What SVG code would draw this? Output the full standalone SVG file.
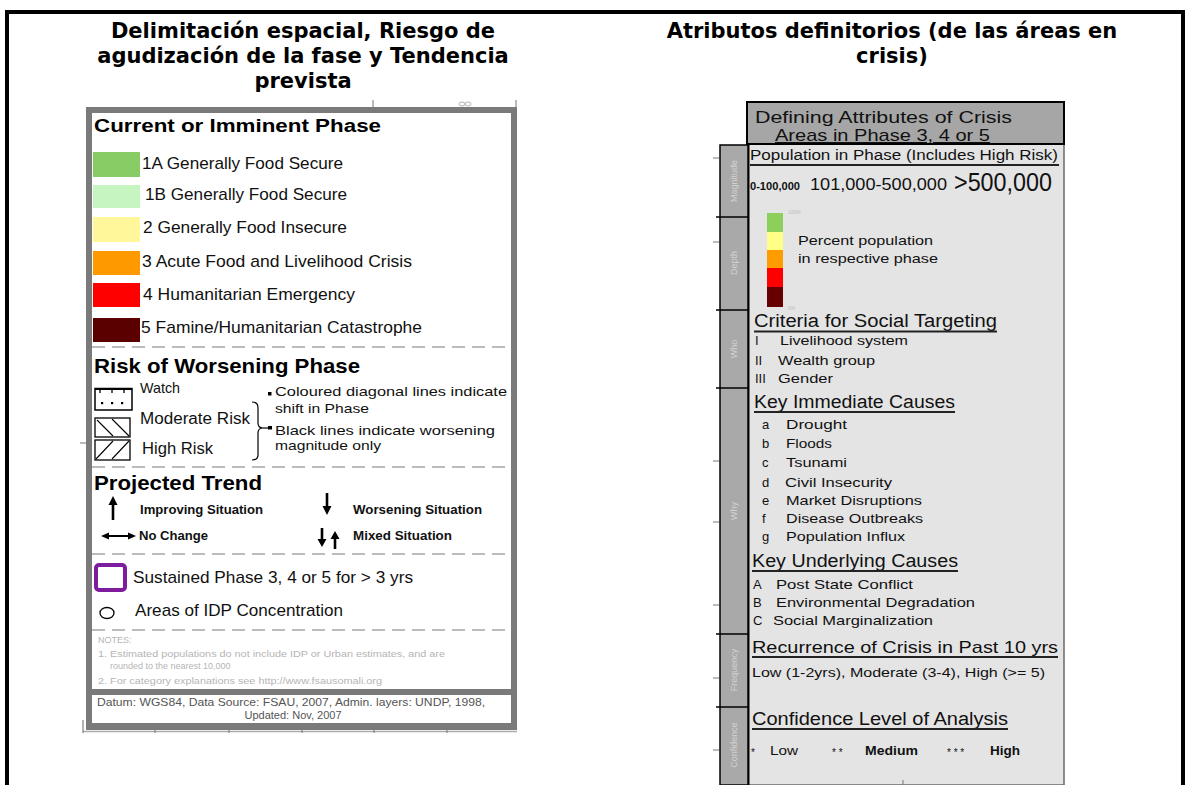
<svg xmlns="http://www.w3.org/2000/svg" width="1185" height="785" viewBox="0 0 1185 785">
<defs>
<style>
.ttl{font-family:"DejaVu Sans",Verdana,sans-serif;font-weight:bold;font-size:21px;fill:#000;text-anchor:middle}
.lg{font-family:"Liberation Sans",Arial,sans-serif;fill:#111}
.hd{font-family:"Liberation Sans",Arial,sans-serif;font-weight:bold;fill:#000}
.dash{stroke:#a5a5a5;stroke-width:1.5;stroke-dasharray:13 7;fill:none}
.note{font-family:"Liberation Sans",Arial,sans-serif;font-size:9px;fill:#b5b5b5}
.rt{font-family:"Liberation Sans",Arial,sans-serif;fill:#111}
.tab{font-family:"Liberation Sans",Arial,sans-serif;font-size:9px;fill:#d2d2d2;text-anchor:middle}
.ul{stroke:#222;stroke-width:2}
.tick{stroke:#777;stroke-width:1}
</style>
<clipPath id="hdrclip"><rect x="748" y="103" width="315" height="40"/></clipPath>
</defs>

<g id="frame">
<rect x="5" y="10" width="1180" height="4" fill="#000"/>
<rect x="5" y="10" width="4" height="775" fill="#000"/>
<rect x="1181" y="10" width="4" height="775" fill="#000"/>
</g>

<g id="titles">
<text class="ttl" x="303" y="38">Delimitación espacial, Riesgo de</text>
<text class="ttl" x="303" y="63">agudización de la fase y Tendencia</text>
<text class="ttl" x="303" y="88">prevista</text>
<text class="ttl" x="892" y="38">Atributos definitorios (de las áreas en</text>
<text class="ttl" x="892" y="63">crisis)</text>
</g>

<g id="legend-left">
<line x1="373" y1="100" x2="373" y2="108" class="tick"/>
<ellipse cx="462" cy="104" rx="3" ry="2" fill="none" stroke="#b5b5b5"/>
<ellipse cx="468" cy="104" rx="3" ry="2" fill="none" stroke="#b5b5b5"/>
<line x1="516" y1="100" x2="516" y2="108" class="tick"/>
<line x1="80" y1="443" x2="87" y2="443" class="tick"/>
<rect x="86" y="107" width="431" height="623" fill="#7a7a7a"/>
<rect x="92" y="113" width="419" height="576" fill="#fff"/>
<rect x="92" y="695" width="419" height="28" fill="#fff"/>
<line x1="83" y1="731.5" x2="517" y2="731.5" stroke="#aaa" stroke-width="1.5"/>
<line x1="83" y1="720" x2="83" y2="733" stroke="#666" stroke-width="1"/>
<g class="tick"><line x1="155" y1="729" x2="155" y2="733"/><line x1="229" y1="729" x2="229" y2="733"/><line x1="302" y1="729" x2="302" y2="733"/><line x1="374" y1="729" x2="374" y2="733"/><line x1="447" y1="729" x2="447" y2="733"/></g>

<g id="current-phase">
<text class="hd" x="94" y="132" font-size="18" textLength="287" lengthAdjust="spacingAndGlyphs">Current or Imminent Phase</text>
<rect x="93" y="152" width="47" height="25" fill="#88cc66"/>
<rect x="93" y="185" width="47" height="23" fill="#c6f5c2"/>
<rect x="93" y="217" width="47" height="25" fill="#fff79a"/>
<rect x="93" y="251" width="47" height="24" fill="#ff9900"/>
<rect x="93" y="283" width="47" height="24" fill="#ff0000"/>
<rect x="93" y="318" width="47" height="24" fill="#5a0000"/>
<text class="lg" x="142" y="169" font-size="17" textLength="201" lengthAdjust="spacingAndGlyphs">1A Generally Food Secure</text>
<text class="lg" x="145" y="200" font-size="17" textLength="202" lengthAdjust="spacingAndGlyphs">1B  Generally Food Secure</text>
<text class="lg" x="143" y="233" font-size="17" textLength="204" lengthAdjust="spacingAndGlyphs">2 Generally Food Insecure</text>
<text class="lg" x="142" y="267" font-size="17" textLength="270" lengthAdjust="spacingAndGlyphs">3 Acute Food and Livelihood Crisis</text>
<text class="lg" x="143" y="300" font-size="17" textLength="212" lengthAdjust="spacingAndGlyphs">4 Humanitarian Emergency</text>
<text class="lg" x="141" y="333" font-size="17" textLength="281" lengthAdjust="spacingAndGlyphs">5 Famine/Humanitarian Catastrophe</text>
</g>
<line x1="92" y1="347" x2="511" y2="347" class="dash"/>

<g id="risk">
<text class="hd" x="94" y="373" font-size="21" textLength="266" lengthAdjust="spacingAndGlyphs">Risk of Worsening Phase</text>
<rect x="95" y="388.5" width="37" height="21.5" fill="none" stroke="#000" stroke-width="1.5"/>
<line x1="95" y1="389" x2="132" y2="389" stroke="#000" stroke-width="2"/>
<g stroke="#000" stroke-width="1.3"><line x1="100" y1="389" x2="100" y2="393"/><line x1="112" y1="389" x2="112" y2="393"/><line x1="124" y1="389" x2="124" y2="393"/></g>
<g fill="#000"><rect x="101" y="402" width="2.2" height="2.2"/><rect x="111" y="402" width="2.2" height="2.2"/><rect x="121" y="402" width="2.2" height="2.2"/></g>
<rect x="95" y="418" width="35" height="19" fill="none" stroke="#000" stroke-width="1.3"/>
<g stroke="#000" stroke-width="1.1"><line x1="97" y1="420" x2="113" y2="436"/><line x1="112" y1="419" x2="129" y2="436"/></g>
<rect x="95" y="440" width="35" height="20" fill="none" stroke="#000" stroke-width="1.3"/>
<g stroke="#000" stroke-width="1.1"><line x1="96" y1="459" x2="113" y2="441"/><line x1="112" y1="459" x2="129" y2="441"/></g>
<text class="lg" x="140" y="393" font-size="15" textLength="40" lengthAdjust="spacingAndGlyphs">Watch</text>
<text class="lg" x="140" y="424" font-size="16" textLength="110" lengthAdjust="spacingAndGlyphs">Moderate Risk</text>
<text class="lg" x="142" y="454" font-size="16" textLength="71" lengthAdjust="spacingAndGlyphs">High Risk</text>
<path d="M252,402 Q258,402 258,408 L258,423 Q258,428 263,428 Q258,428 258,433 L258,455 Q258,460 252,460" fill="none" stroke="#000" stroke-width="1.2"/>
<line x1="263" y1="428" x2="268" y2="428" stroke="#000" stroke-width="1.2"/>
<rect x="268" y="392" width="3.5" height="3.5" fill="#000"/>
<rect x="268" y="426" width="4" height="3.5" fill="#000"/>
<text class="lg" x="275" y="396" font-size="13" textLength="232" lengthAdjust="spacingAndGlyphs">Coloured diagonal lines indicate</text>
<text class="lg" x="275" y="413" font-size="13" textLength="94" lengthAdjust="spacingAndGlyphs">shift in Phase</text>
<text class="lg" x="275" y="435" font-size="13" textLength="220" lengthAdjust="spacingAndGlyphs">Black lines indicate worsening</text>
<text class="lg" x="275" y="450" font-size="13" textLength="106" lengthAdjust="spacingAndGlyphs">magnitude only</text>
</g>
<line x1="92" y1="467" x2="511" y2="467" class="dash"/>

<g id="trend">
<text class="hd" x="94" y="490" font-size="20" textLength="168" lengthAdjust="spacingAndGlyphs">Projected Trend</text>
<line x1="113" y1="520" x2="113" y2="503" stroke="#000" stroke-width="2.6"/>
<polygon points="108.5,505 113,496 117.5,505" fill="#000"/>
<line x1="327" y1="493" x2="327" y2="508" stroke="#000" stroke-width="2.6"/>
<polygon points="322.5,506 327,515 331.5,506" fill="#000"/>
<line x1="104" y1="536" x2="133" y2="536" stroke="#000" stroke-width="2"/>
<polygon points="101,536 109,532.5 109,539.5" fill="#000"/>
<polygon points="136,536 128,532.5 128,539.5" fill="#000"/>
<line x1="322" y1="528" x2="322" y2="541" stroke="#000" stroke-width="2.6"/>
<polygon points="317.5,539 322,547 326.5,539" fill="#000"/>
<line x1="335" y1="549" x2="335" y2="537" stroke="#000" stroke-width="2.6"/>
<polygon points="330.5,539 335,531 339.5,539" fill="#000"/>
<text class="lg" x="140" y="514" font-size="12.5" font-weight="bold" textLength="123" lengthAdjust="spacingAndGlyphs">Improving Situation</text>
<text class="lg" x="353" y="514" font-size="12.5" font-weight="bold" textLength="129" lengthAdjust="spacingAndGlyphs">Worsening Situation</text>
<text class="lg" x="139" y="540" font-size="12.5" font-weight="bold" textLength="69" lengthAdjust="spacingAndGlyphs">No Change</text>
<text class="lg" x="353" y="540" font-size="12.5" font-weight="bold" textLength="99" lengthAdjust="spacingAndGlyphs">Mixed Situation</text>
</g>
<line x1="92" y1="554" x2="511" y2="554" class="dash"/>

<g id="sustained">
<rect x="96" y="565" width="29" height="25" rx="3" fill="#fff" stroke="#7d1d9e" stroke-width="4"/>
<text class="lg" x="133" y="583" font-size="17" textLength="280" lengthAdjust="spacingAndGlyphs">Sustained Phase 3, 4 or 5 for &gt; 3 yrs</text>
<ellipse cx="107" cy="613" rx="7" ry="5.5" fill="none" stroke="#000" stroke-width="1.3"/>
<text class="lg" x="135" y="616" font-size="17" textLength="208" lengthAdjust="spacingAndGlyphs">Areas of IDP Concentration</text>
</g>
<line x1="92" y1="630" x2="511" y2="630" class="dash"/>

<g id="notes">
<text class="note" x="98" y="643">NOTES:</text>
<text class="note" x="98" y="657" textLength="347" lengthAdjust="spacingAndGlyphs">1. Estimated populations do not include IDP or Urban estimates, and are</text>
<text class="note" x="110" y="669">rounded to the nearest 10,000</text>
<text class="note" x="98" y="684" textLength="284" lengthAdjust="spacingAndGlyphs">2. For category explanations see http://www.fsausomali.org</text>
<text class="lg" x="291" y="706" font-size="11" style="fill:#555" text-anchor="middle" textLength="388" lengthAdjust="spacingAndGlyphs">Datum: WGS84, Data Source: FSAU, 2007, Admin. layers: UNDP, 1998,</text>
<text class="lg" x="293" y="719" font-size="11" style="fill:#555" text-anchor="middle">Updated: Nov, 2007</text>
</g>
</g>

<g id="attributes-right">
<g class="tick">
<line x1="713" y1="158" x2="719" y2="158"/><line x1="713" y1="242" x2="719" y2="242"/><line x1="713" y1="461" x2="719" y2="461"/>
<line x1="713" y1="522" x2="719" y2="522"/><line x1="713" y1="605" x2="719" y2="605"/><line x1="713" y1="678" x2="719" y2="678"/><line x1="713" y1="750" x2="719" y2="750"/>
</g>
<rect x="748" y="144" width="316" height="641" fill="#e4e4e4" stroke="#6a6a6a" stroke-width="1.5"/>
<line x1="748.5" y1="144" x2="748.5" y2="785" stroke="#000" stroke-width="2"/>
<rect x="720" y="145" width="28" height="640" fill="#a9a9a9" stroke="#000" stroke-width="1.5"/>
<g stroke="#000" stroke-width="1.5">
<line x1="716" y1="217" x2="748" y2="217"/><line x1="716" y1="310" x2="748" y2="310"/><line x1="716" y1="388" x2="748" y2="388"/>
<line x1="716" y1="634" x2="748" y2="634"/><line x1="716" y1="707" x2="748" y2="707"/>
</g>
<text class="tab" transform="translate(737,181) rotate(-90)">Magnitude</text>
<text class="tab" transform="translate(737,263) rotate(-90)">Depth</text>
<text class="tab" transform="translate(737,349) rotate(-90)">Who</text>
<text class="tab" transform="translate(737,511) rotate(-90)">Why</text>
<text class="tab" transform="translate(737,670) rotate(-90)">Frequency</text>
<text class="tab" transform="translate(737,745) rotate(-90)">Confidence</text>

<g id="attr-header">
<rect x="747" y="102" width="317" height="42" fill="#a6a6a6" stroke="#000" stroke-width="2"/>
<g clip-path="url(#hdrclip)">
<text class="rt" x="755" y="123" font-size="17" textLength="257" lengthAdjust="spacingAndGlyphs">Defining Attributes of Crisis</text>
<text class="rt" x="775" y="141" font-size="17" textLength="215" lengthAdjust="spacingAndGlyphs" text-decoration="underline">Areas in Phase 3, 4 or 5</text>
</g>
</g>

<g id="magnitude">
<text class="rt" x="750" y="160" font-size="14" textLength="308" lengthAdjust="spacingAndGlyphs">Population in Phase (Includes High Risk)</text>
<line x1="750" y1="165" x2="1059" y2="165" class="ul"/>
<text class="rt" x="750" y="190" font-size="11" font-weight="bold" textLength="50" lengthAdjust="spacingAndGlyphs">0-100,000</text>
<text class="rt" x="810" y="190" font-size="17" textLength="137" lengthAdjust="spacingAndGlyphs">101,000-500,000</text>
<text class="rt" x="954" y="191" font-size="25" textLength="98" lengthAdjust="spacingAndGlyphs">&gt;500,000</text>
</g>

<g id="depth">
<rect x="767" y="213" width="16" height="19" fill="#8ccf5a"/>
<rect x="767" y="232" width="16" height="18" fill="#ffff88"/>
<rect x="767" y="250" width="16" height="18" fill="#ff9c00"/>
<rect x="767" y="268" width="16" height="19" fill="#ff0000"/>
<rect x="767" y="287" width="16" height="20" fill="#660000"/>
<text class="rt" x="788" y="214" font-size="5" style="fill:#bbb">100%</text>
<text class="rt" x="788" y="310" font-size="5" style="fill:#bbb">0%</text>
<text class="rt" x="798" y="245" font-size="13" textLength="135" lengthAdjust="spacingAndGlyphs">Percent population</text>
<text class="rt" x="798" y="263" font-size="13" textLength="140" lengthAdjust="spacingAndGlyphs">in respective phase</text>
</g>

<g id="who">
<text class="rt" x="754" y="327" font-size="18" textLength="243" lengthAdjust="spacingAndGlyphs">Criteria for Social Targeting</text>
<line x1="754" y1="331.5" x2="997" y2="331.5" class="ul"/>
<text class="rt" x="755" y="345" font-size="13">I</text>
<text class="rt" x="780" y="345" font-size="13" textLength="128" lengthAdjust="spacingAndGlyphs">Livelihood system</text>
<text class="rt" x="755" y="365" font-size="13">II</text>
<text class="rt" x="778" y="365" font-size="13" textLength="97" lengthAdjust="spacingAndGlyphs">Wealth group</text>
<text class="rt" x="755" y="383" font-size="13">III</text>
<text class="rt" x="778" y="383" font-size="13" textLength="55" lengthAdjust="spacingAndGlyphs">Gender</text>
</g>

<g id="why">
<text class="rt" x="754" y="408" font-size="18" textLength="201" lengthAdjust="spacingAndGlyphs">Key Immediate Causes</text>
<line x1="754" y1="412" x2="955" y2="412" class="ul"/>
<g font-size="13">
<text class="rt" x="762" y="429">a</text><text class="rt" x="786" y="429" textLength="61" lengthAdjust="spacingAndGlyphs">Drought</text>
<text class="rt" x="762" y="448">b</text><text class="rt" x="786" y="448" textLength="46" lengthAdjust="spacingAndGlyphs">Floods</text>
<text class="rt" x="762" y="467">c</text><text class="rt" x="786" y="467" textLength="61" lengthAdjust="spacingAndGlyphs">Tsunami</text>
<text class="rt" x="762" y="487">d</text><text class="rt" x="785" y="487" textLength="107" lengthAdjust="spacingAndGlyphs">Civil Insecurity</text>
<text class="rt" x="762" y="505">e</text><text class="rt" x="786" y="505" textLength="136" lengthAdjust="spacingAndGlyphs">Market Disruptions</text>
<text class="rt" x="762" y="523">f</text><text class="rt" x="786" y="523" textLength="137" lengthAdjust="spacingAndGlyphs">Disease Outbreaks</text>
<text class="rt" x="762" y="541">g</text><text class="rt" x="786" y="541" textLength="119" lengthAdjust="spacingAndGlyphs">Population Influx</text>
</g>
<text class="rt" x="752" y="567" font-size="18" textLength="206" lengthAdjust="spacingAndGlyphs">Key Underlying Causes</text>
<line x1="752" y1="571" x2="958" y2="571" class="ul"/>
<g font-size="13">
<text class="rt" x="753" y="589">A</text><text class="rt" x="776" y="589" textLength="137" lengthAdjust="spacingAndGlyphs">Post State Conflict</text>
<text class="rt" x="753" y="607">B</text><text class="rt" x="776" y="607" textLength="199" lengthAdjust="spacingAndGlyphs">Environmental Degradation</text>
<text class="rt" x="753" y="625">C</text><text class="rt" x="773" y="625" textLength="160" lengthAdjust="spacingAndGlyphs">Social Marginalization</text>
</g>
</g>

<g id="frequency">
<text class="rt" x="752" y="653" font-size="17" textLength="306" lengthAdjust="spacingAndGlyphs">Recurrence of Crisis in Past 10 yrs</text>
<line x1="752" y1="657" x2="1058" y2="657" class="ul"/>
<text class="rt" x="752" y="677" font-size="13" textLength="293" lengthAdjust="spacingAndGlyphs">Low (1-2yrs), Moderate (3-4), High (&gt;= 5)</text>
</g>

<g id="confidence">
<text class="rt" x="752" y="725" font-size="18" textLength="256" lengthAdjust="spacingAndGlyphs">Confidence Level of Analysis</text>
<line x1="752" y1="729" x2="1008" y2="729" class="ul"/>
<g font-size="13">
<text class="rt" x="751" y="756" font-size="10">*</text>
<text class="rt" x="770" y="755" textLength="28" lengthAdjust="spacingAndGlyphs">Low</text>
<text class="rt" x="832" y="756" font-size="10">* *</text>
<text class="rt" x="865" y="755" font-weight="bold" textLength="53" lengthAdjust="spacingAndGlyphs">Medium</text>
<text class="rt" x="947" y="756" font-size="10">* * *</text>
<text class="rt" x="990" y="755" font-weight="bold" textLength="30" lengthAdjust="spacingAndGlyphs">High</text>
</g>
</g>
<line x1="903" y1="780" x2="903" y2="785" class="tick"/>
</g>
</svg>
